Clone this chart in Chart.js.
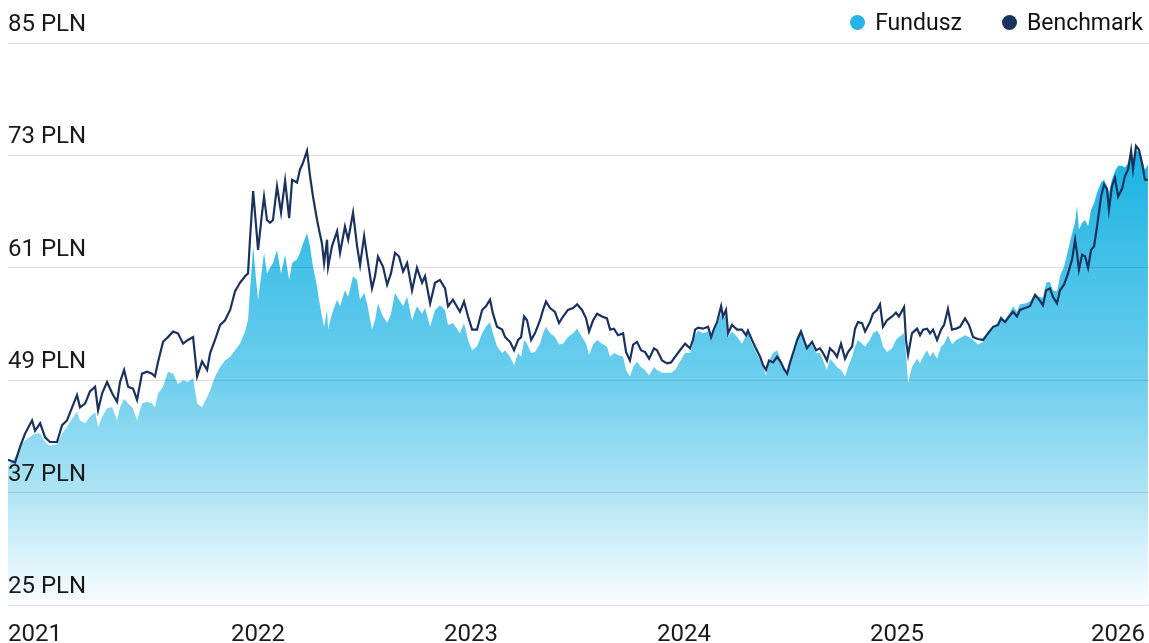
<!DOCTYPE html>
<html>
<head>
<meta charset="utf-8">
<script src="https://cdn.jsdelivr.net/npm/chart.js@4.4.1/dist/chart.umd.min.js"></script>
<style>
  body { margin: 0; background: #fff; font-family: Roboto, sans-serif; }
  #wrap { position: relative; width: 1149px; height: 643px; }
  #legend { position: absolute; top: 0; right: 6px; height: 44px; display: flex; align-items: center; font-size: 23px; color: #111; }
  #legend .item { display: flex; align-items: center; margin-left: 40px; }
  #legend .dot { width: 15px; height: 15px; border-radius: 50%; display: inline-block; margin-right: 10px; }
</style>
</head>
<body>
<div id="wrap">
  <canvas id="myChart"></canvas>
  <div id="legend"></div>
</div>
<script>
// dates as decimal years
var dates = [
  2020.826, 2020.859, 2020.883, 2020.906, 2020.939, 2020.953, 2020.977, 2021.000, 2021.023, 2021.056, 2021.080, 2021.103,
  2021.127, 2021.150, 2021.164, 2021.188, 2021.211, 2021.235, 2021.249, 2021.268, 2021.291, 2021.315, 2021.338, 2021.352,
  2021.371, 2021.390, 2021.413, 2021.432, 2021.455, 2021.479, 2021.502, 2021.516, 2021.531, 2021.554, 2021.577, 2021.601,
  2021.624, 2021.648, 2021.671, 2021.695, 2021.714, 2021.737, 2021.761, 2021.775, 2021.798, 2021.822, 2021.845, 2021.869,
  2021.892, 2021.915, 2021.939, 2021.953, 2021.962, 2021.977, 2021.991, 2022.000, 2022.019, 2022.028, 2022.042, 2022.056,
  2022.070, 2022.089, 2022.108, 2022.127, 2022.146, 2022.160, 2022.183, 2022.197, 2022.211, 2022.230, 2022.244, 2022.258,
  2022.277, 2022.286, 2022.300, 2022.310, 2022.324, 2022.329, 2022.347, 2022.371, 2022.385, 2022.408, 2022.423, 2022.446,
  2022.465, 2022.479, 2022.498, 2022.512, 2022.535, 2022.549, 2022.563, 2022.587, 2022.606, 2022.624, 2022.643, 2022.662,
  2022.681, 2022.700, 2022.723, 2022.746, 2022.770, 2022.784, 2022.808, 2022.831, 2022.854, 2022.878, 2022.892, 2022.915,
  2022.948,
  2022.967, 2022.986, 2023.005, 2023.028, 2023.052, 2023.070, 2023.089, 2023.103, 2023.122, 2023.146, 2023.160, 2023.183,
  2023.202, 2023.221, 2023.235, 2023.249, 2023.263, 2023.282, 2023.300, 2023.324, 2023.338, 2023.352, 2023.371, 2023.394,
  2023.413, 2023.432, 2023.455, 2023.479, 2023.498, 2023.521, 2023.540, 2023.554, 2023.573, 2023.592, 2023.615, 2023.638,
  2023.653, 2023.671, 2023.690, 2023.714, 2023.728, 2023.746, 2023.761, 2023.779, 2023.798, 2023.817, 2023.836, 2023.859,
  2023.873, 2023.897, 2023.920, 2023.939, 2023.958, 2023.981, 2024.005, 2024.028,
  2024.042, 2024.052, 2024.066, 2024.089, 2024.113, 2024.127, 2024.141, 2024.155, 2024.174, 2024.183, 2024.197, 2024.207,
  2024.225, 2024.249, 2024.272, 2024.291, 2024.300, 2024.319, 2024.333, 2024.357, 2024.371, 2024.385, 2024.399, 2024.418,
  2024.437, 2024.455, 2024.469, 2024.484, 2024.498, 2024.516, 2024.531, 2024.549, 2024.563, 2024.577, 2024.601, 2024.620,
  2024.638, 2024.653, 2024.671, 2024.685, 2024.704, 2024.718, 2024.737, 2024.756, 2024.770, 2024.789, 2024.803, 2024.817,
  2024.836, 2024.850, 2024.873, 2024.887, 2024.906, 2024.920, 2024.934, 2024.953, 2024.977, 2024.995, 2025.009, 2025.033,
  2025.042, 2025.052, 2025.070, 2025.094, 2025.108,
  2025.122, 2025.141, 2025.155, 2025.169, 2025.188, 2025.207, 2025.221, 2025.239, 2025.258, 2025.277, 2025.296, 2025.319,
  2025.338, 2025.357, 2025.380, 2025.404, 2025.427, 2025.451, 2025.474, 2025.488, 2025.507, 2025.526, 2025.545, 2025.563,
  2025.577, 2025.601, 2025.624, 2025.648, 2025.667, 2025.685, 2025.700, 2025.718, 2025.732, 2025.751, 2025.765, 2025.784,
  2025.803, 2025.822, 2025.836, 2025.845, 2025.854, 2025.869, 2025.883, 2025.897, 2025.911, 2025.925, 2025.939, 2025.958,
  2025.972, 2025.986, 2025.995, 2026.009, 2026.023, 2026.038, 2026.056, 2026.070, 2026.085, 2026.099, 2026.108, 2026.122,
  2026.136, 2026.150, 2026.164, 2026.178
];

var fundusz = [
  39.8, 40.8, 41.9, 42.6, 43.1, 43.3, 43.3, 42.4, 42.0, 42.2, 43.3, 44.0,
  44.9, 45.6, 44.7, 44.4, 45.1, 45.6, 44.0, 45.1, 46.0, 46.1, 44.7, 46.1,
  47.0, 46.5, 46.0, 44.7, 46.5, 46.7, 46.5, 46.1, 47.6, 48.3, 49.9, 49.7,
  48.6, 49.0, 48.8, 49.2, 46.5, 46.1, 47.2, 47.9, 49.4, 50.4, 51.1, 51.5,
  52.2, 52.9, 54.2, 55.4, 58.5, 63.3, 59.7, 57.6, 60.9, 62.6, 60.4, 61.0,
  61.5, 62.9, 60.4, 62.4, 59.7, 61.5, 61.9, 62.6, 63.6, 64.7, 63.3, 61.1,
  59.0, 57.6, 55.8, 54.7, 56.5, 54.4, 56.1, 57.6, 56.9, 58.6, 57.9, 60.1,
  59.7, 57.6, 58.3, 57.2, 54.4, 55.4, 57.2, 55.8, 55.1, 56.1, 58.3, 57.6,
  56.9, 57.9, 55.4, 56.9, 56.1, 56.7, 54.7, 56.5, 57.0, 56.5, 54.9, 55.1,
  54.0,
  55.1, 53.3, 52.2, 52.6, 54.0, 54.7, 55.2, 54.0, 52.6, 51.9, 52.2, 51.5,
  50.6, 51.9, 51.5, 53.3, 52.9, 51.9, 52.0, 52.9, 54.0, 54.7, 54.0, 53.6,
  52.8, 52.9, 53.6, 54.0, 54.5, 53.6, 52.9, 51.7, 52.8, 53.3, 52.9, 52.6,
  51.5, 51.9, 51.7, 51.5, 50.1, 49.4, 50.4, 51.0, 50.4, 50.1, 49.5, 50.4,
  50.1, 49.8, 49.8, 49.8, 50.1, 51.0, 51.9, 51.9,
  52.9, 53.8, 54.3, 54.0, 54.2, 53.6, 54.2, 54.9, 56.1, 55.6, 55.9, 53.6,
  54.2, 53.6, 52.9, 53.8, 54.2, 52.9, 52.2, 51.1, 50.4, 49.5, 51.1, 51.9,
  52.2, 51.1, 50.4, 49.7, 50.9, 52.3, 53.6, 54.5, 53.3, 52.8, 52.8, 51.9,
  51.9, 51.1, 50.1, 51.3, 50.8, 50.4, 50.1, 49.4, 50.4, 51.5, 52.6, 53.3,
  52.9, 52.6, 53.3, 54.0, 54.3, 53.8, 52.6, 52.0, 52.4, 53.3, 53.6, 54.0,
  51.9, 48.7, 50.4, 51.3, 50.8,
  51.5, 52.2, 51.5, 52.0, 51.3, 52.6, 52.9, 53.8, 52.8, 53.3, 53.5, 53.8,
  53.6, 53.3, 52.8, 53.1, 54.2, 54.7, 55.1, 55.9, 55.4, 56.1, 56.9, 56.3,
  57.1, 57.2, 57.4, 58.3, 57.9, 57.8, 59.4, 59.5, 58.6, 58.5, 60.1, 61.1,
  62.9, 64.7, 65.8, 67.6, 65.1, 65.8, 66.1, 65.4, 67.2, 67.9, 69.0, 70.1,
  70.4, 69.7, 69.0, 70.4, 71.3, 71.9, 71.9, 71.7, 72.2, 73.1, 72.6, 73.6,
  73.3, 72.6, 71.5, 72.0
];

var benchmark = [
  40.5, 40.2, 41.9, 43.3, 44.7, 43.6, 44.4, 42.9, 42.4, 42.4, 44.2, 44.7,
  46.1, 47.4, 46.1, 46.5, 47.8, 48.3, 45.8, 47.6, 48.8, 47.6, 46.7, 48.8,
  50.1, 48.3, 48.1, 46.9, 49.7, 49.9, 49.7, 49.4, 51.0, 53.1, 53.6, 54.2,
  54.0, 52.9, 53.3, 53.6, 49.4, 51.0, 50.1, 51.9, 53.3, 54.9, 55.4, 56.5,
  58.5, 59.4, 60.1, 60.4, 64.0, 69.2, 65.4, 62.9, 66.9, 68.6, 66.1, 65.8,
  66.1, 69.7, 66.9, 70.3, 66.3, 70.4, 70.1, 71.5, 72.2, 73.5, 70.8, 68.6,
  66.1, 65.1, 63.6, 61.5, 64.0, 61.1, 63.3, 64.9, 62.6, 65.4, 64.0, 66.9,
  63.3, 61.3, 64.4, 62.2, 58.8, 60.1, 62.2, 61.1, 59.2, 60.4, 62.6, 62.2,
  60.6, 61.5, 58.6, 61.0, 59.4, 60.1, 57.2, 59.4, 59.7, 58.8, 56.9, 57.6,
  56.3,
  57.4, 55.8, 54.4, 54.4, 56.5, 56.9, 57.6, 56.1, 54.7, 54.4, 53.6, 53.1,
  52.2, 53.3, 53.6, 55.8, 55.4, 53.3, 54.0, 55.4, 56.5, 57.4, 56.7, 56.3,
  55.1, 55.8, 56.5, 56.7, 57.1, 56.5, 55.6, 54.2, 55.4, 56.1, 55.8, 55.6,
  54.4, 54.5, 53.8, 54.0, 52.0, 51.1, 52.8, 53.1, 52.2, 52.0, 51.3, 52.4,
  52.2, 51.1, 50.8, 50.9, 51.5, 52.2, 52.9, 52.4,
  53.3, 54.4, 54.6, 54.5, 54.7, 53.6, 54.5, 55.2, 56.9, 55.8, 56.5, 54.0,
  54.9, 54.4, 54.4, 53.8, 54.3, 53.3, 52.6, 51.5, 50.6, 50.1, 51.1, 50.9,
  51.5, 50.9, 50.2, 49.7, 50.9, 52.2, 53.3, 54.2, 53.3, 52.4, 53.1, 52.2,
  52.4, 51.9, 51.1, 52.4, 52.0, 51.5, 52.9, 51.3, 52.0, 52.6, 54.5, 55.2,
  55.1, 54.2, 55.2, 56.1, 56.5, 57.1, 54.7, 55.4, 55.8, 56.2, 55.8, 56.8,
  53.3, 51.7, 54.0, 54.5, 53.8,
  54.4, 54.5, 54.0, 54.4, 53.3, 54.4, 54.9, 56.6, 54.4, 54.5, 54.7, 55.6,
  54.9, 53.6, 53.4, 53.3, 54.0, 54.7, 54.9, 55.6, 55.2, 55.8, 56.3, 55.8,
  56.5, 56.7, 56.9, 58.1, 57.6, 57.0, 58.6, 58.8, 57.9, 57.2, 58.6, 59.2,
  60.4, 61.9, 64.0, 62.6, 60.8, 62.4, 62.2, 61.0, 62.9, 63.3, 65.4, 68.6,
  69.9, 69.4, 67.2, 69.7, 70.6, 68.6, 69.4, 70.8, 71.5, 73.5, 71.5, 74.0,
  73.6, 72.2, 70.4, 70.4
];

var years = [2021, 2022, 2023, 2024, 2025, 2026];
var xMin = 2020.826, xMax = 2026.183;
var yMin = 25, yMax = 85, yStep = 12;

var fundColor = '#25b4e6';
var benchColor = '#1b325e';
// alpha of the fund fill from top (0) to bottom (1) of the plot
var fillStops = [[0, 1], [0.19, 0.91], [0.4, 0.73], [0.6, 0.57], [0.78, 0.34], [0.93, 0.12], [1, 0.02]];

function points(vals) {
  return vals.map(function (v, i) { return { x: dates[i], y: v }; });
}

// legend in html
var legend = document.getElementById('legend');
[['Fundusz', fundColor], ['Benchmark', benchColor]].forEach(function (it) {
  var d = document.createElement('div');
  d.className = 'item';
  d.innerHTML = '<span class="dot" style="background:' + it[1] + '"></span>' + it[0];
  legend.appendChild(d);
});

// year labels under the plot, first and last kept inside
var yearLabels = {
  id: 'yearLabels',
  afterDraw: function (chart) {
    var ctx = chart.ctx, xs = chart.scales.x, ca = chart.chartArea;
    ctx.save();
    ctx.font = '24px Roboto';
    ctx.fillStyle = '#1a1a1a';
    ctx.textBaseline = 'middle';
    years.forEach(function (yr, i) {
      var px = xs.getPixelForValue(yr);
      ctx.textAlign = 'center';
      if (i === 0) { ctx.textAlign = 'left'; px = ca.left; }
      if (i === years.length - 1) { ctx.textAlign = 'right'; px = ca.right - 4; }
      ctx.fillText(String(yr), px, ca.bottom + 30);
    });
    ctx.restore();
  }
};

var ctx = document.getElementById('myChart').getContext('2d');
var chart = new Chart(ctx, {
  type: 'line',
  data: {
    datasets: [{
      label: 'Benchmark',
      data: points(benchmark),
      borderColor: benchColor,
      borderWidth: 2.2,
      pointRadius: 0,
      fill: false,
      order: 0
    }, {
      label: 'Fundusz',
      data: points(fundusz),
      borderColor: 'rgba(0,0,0,0)',
      borderWidth: 0,
      pointRadius: 0,
      fill: 'start',
      order: 1,
      backgroundColor: function (c) {
        var ca = c.chart.chartArea;
        if (!ca) return 'rgba(0,170,224,0.5)';
        var g = c.chart.ctx.createLinearGradient(0, ca.top, 0, ca.bottom);
        fillStops.forEach(function (s) { g.addColorStop(s[0], 'rgba(0,170,224,' + s[1] + ')'); });
        return g;
      }
    }]
  },
  options: {
    responsive: true,
    maintainAspectRatio: false,
    animation: false,
    layout: { padding: { left: 8, top: 43, right: 0, bottom: 38 } },
    plugins: { legend: { display: false }, tooltip: { enabled: false } },
    scales: {
      x: { type: 'linear', min: xMin, max: xMax, display: false },
      y: {
        min: yMin, max: yMax,
        grid: { color: 'rgba(0,0,0,0.12)', drawTicks: false, lineWidth: 1, z: 1 },
        border: { display: false },
        ticks: {
          stepSize: yStep, mirror: true, padding: 0, labelOffset: -18, z: 1,
          color: '#1a1a1a', font: { family: 'Roboto', size: 24 },
          callback: function (v) { return v + ' PLN'; }
        }
      }
    }
  },
  plugins: [yearLabels]
});
</script>
</body>
</html>
